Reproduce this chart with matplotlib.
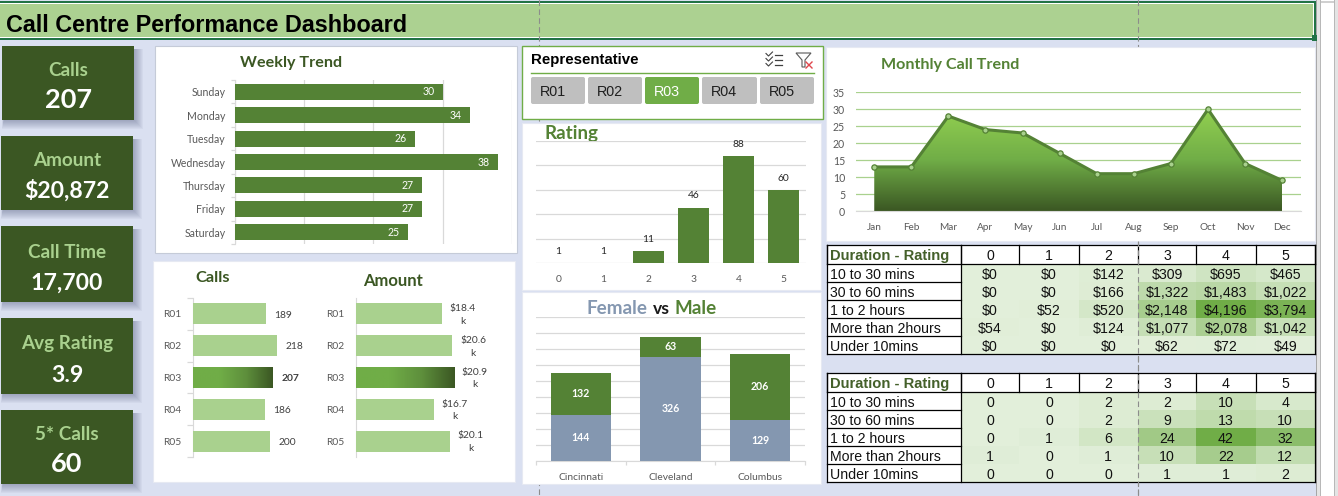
import numpy as np
import matplotlib
matplotlib.use("Agg")
import matplotlib.pyplot as plt
from matplotlib.colors import LinearSegmentedColormap
from matplotlib.patches import Rectangle, FancyBboxPatch, Polygon
from matplotlib.ticker import MultipleLocator, FixedLocator, NullFormatter

# ---------- data ----------
title = "Call Centre Performance Dashboard"
kpi_labels = ["Calls", "Amount", "Call Time", "Avg Rating", "5* Calls"]
kpi_values = ["207", "$20,872", "17,700", "3.9", "60"]

weekdays = ["Sunday", "Monday", "Tuesday", "Wednesday", "Thursday", "Friday", "Saturday"]
weekday_calls = [30, 34, 26, 38, 27, 27, 25]

reps = ["R01", "R02", "R03", "R04", "R05"]
rep_calls = [189, 218, 207, 186, 200]
rep_amount = [18.4, 20.6, 20.9, 16.7, 20.1]
selected_rep = "R03"

ratings = ["0", "1", "2", "3", "4", "5"]
rating_counts = [1, 1, 11, 46, 88, 60]

cities = ["Cincinnati", "Cleveland", "Columbus"]
female = [144, 326, 129]
male = [132, 63, 206]

months = ["Jan", "Feb", "Mar", "Apr", "May", "Jun", "Jul", "Aug", "Sep", "Oct", "Nov", "Dec"]
month_calls = [13, 13, 28, 24, 23, 17, 11, 11, 14, 30, 14, 9]

durations = ["10 to 30 mins", "30 to 60 mins", "1 to 2 hours", "More than 2hours", "Under 10mins"]
amount_table = [[0, 0, 142, 309, 695, 465],
                [0, 0, 166, 1322, 1483, 1022],
                [0, 52, 520, 2148, 4196, 3794],
                [54, 0, 124, 1077, 2078, 1042],
                [0, 0, 0, 62, 72, 49]]
count_table = [[0, 0, 2, 2, 10, 4],
               [0, 0, 2, 9, 13, 10],
               [0, 1, 6, 24, 42, 32],
               [1, 0, 1, 10, 22, 12],
               [0, 0, 0, 1, 1, 2]]

# ---------- style ----------
W, H = 1338, 496
BG = "#DAE0F1"
DARK = "#3B5723"
MID = "#548235"
LIGHT = "#A9D18E"
GRID = "#D9D9D9"
TICK = "#595959"
SANS = ["Lato", "DejaVu Sans"]
ARIAL = ["Liberation Sans", "DejaVu Sans"]

fig = plt.figure(figsize=(W / 100, H / 100), dpi=100, facecolor=BG)
plt.rcParams["font.family"] = SANS


def px_axes(x0, y0, x1, y1, z=1):
    ax = fig.add_axes([x0 / W, 1 - y1 / H, (x1 - x0) / W, (y1 - y0) / H], zorder=z)
    ax.patch.set_alpha(0)
    return ax


bg = px_axes(0, 0, W, H, 0)
bg.set_xlim(0, W)
bg.set_ylim(H, 0)
bg.axis("off")
top = px_axes(0, 0, W, H, 5)
top.set_xlim(0, W)
top.set_ylim(H, 0)
top.axis("off")


def rect(ax, x0, y0, x1, y1, fc, ec="none", lw=0, z=2, alpha=None):
    ax.add_patch(Rectangle((x0, y0), x1 - x0, y1 - y0, fc=fc, ec=ec, lw=lw, zorder=z, alpha=alpha))


# sheet edges on the right
rect(bg, 1316, 0, 1320, H, "#E4E4E4")
rect(bg, 1315.5, 0, 1316.5, H, "#A6A6A6")
rect(bg, 1319.5, 0, 1320.5, H, "#B8B8B8")
rect(bg, 1320.5, 0, 1334, H, "#FFFFFF")
rect(bg, 1320.5, 1, 1334, 3, "#D0D0D0", z=2.1)
rect(bg, 1334, 0, W, H, "#E4E4E4")
rect(bg, 1334, 0, 1335, H, "#B8B8B8", z=2.1)

# banner
rect(bg, 0, 1, 1316, 40, "#217346")
rect(bg, 0, 3, 1314, 38, "#FFFFFF", z=2.2)
rect(bg, 0, 4, 1313, 37, "#ACD191", z=2.4)
rect(bg, 1311.5, 35, 1316.5, 41, "#217346", z=2.6)
bg.text(5.5, 26, title, family=ARIAL, weight="bold", fontsize=16.8, color="#000000", va="center", ha="left", zorder=4)

# KPI cards
card_boxes = [(2, 46, 134, 120), (1, 136, 133, 210), (1, 226, 133, 302), (1, 318, 133, 394), (1, 410, 133, 484)]
label_y = [71, 161, 253, 344, 435]
value_y = [100, 191, 283, 375, 464]
value_size = [19.5, 16.6, 16.6, 16.6, 19.5]
for box, lab, val, ly, vy, vs in zip(card_boxes, kpi_labels, kpi_values, label_y, value_y, value_size):
    x0, y0, x1, y1 = box
    for g in range(9, 0, -1):
        rect(bg, x0 + 2 - g * 0.2, y0 + 3, x1 + g, y1 + g, "#4A5578", z=1.5, alpha=0.05)
    rect(bg, x0, y0, x1, y1, DARK, z=3)
    bg.text((x0 + x1) / 2, ly, lab, color="#A9D18E", weight="bold", fontsize=13.6, ha="center", va="center", zorder=4, family=SANS)
    bg.text((x0 + x1) / 2, vy, val, color="#FFFFFF", weight="bold", fontsize=vs, ha="center", va="center", zorder=4, family=SANS)

# white panels
panels = [(155, 46, 517, 253, "#C5CBD8"), (153, 261, 515, 482, "#E6E9F2"), (522, 123, 821, 290, "#E6E9F2"),
          (522, 292, 821, 484, "#E6E9F2"), (826, 47, 1315, 241, "#E6E9F2")]
for p in panels:
    rect(bg, p[0], p[1], p[2], p[3], "#FFFFFF", ec=p[4], lw=0.8, z=2)

# page-break dashes: behind panels, but over banner and tables
DASH = dict(color="#8C8C8C", lw=0.8, ls=(0, (5, 3)))
bg.plot([538.5, 538.5], [0, H], zorder=1.8, **DASH)
bg.plot([1138, 1138], [0, H], zorder=1.8, **DASH)
top.plot([538.5, 538.5], [0, 40], zorder=10, **DASH)
top.plot([1138, 1138], [0, 40], zorder=10, **DASH)
top.plot([1138, 1138], [241, H], zorder=10, **DASH)


def clean(ax):
    for s in ax.spines.values():
        s.set_visible(False)


def chart_text(x, y, s, color, size=11.6):
    bg.text(x, y + 2, s, color=color, weight="bold", fontsize=size, ha="left", va="center", zorder=4, family=SANS)


# ---------- weekly trend ----------
ax = px_axes(234.5, 80, 512, 244)
clean(ax)
pos = np.arange(len(weekdays))
ax.barh(pos, weekday_calls, height=0.68, color=MID, zorder=3)
ax.set_xlim(0, 40)
ax.set_ylim(len(weekdays) - 0.5, -0.5)
ax.xaxis.set_major_locator(MultipleLocator(10))
ax.xaxis.set_major_formatter(NullFormatter())
ax.grid(axis="x", color=GRID, lw=0.9, zorder=0)
ax.tick_params(axis="x", length=0)
ax.set_yticks(pos, weekdays, fontsize=7.6, color=TICK)
ax.tick_params(axis="y", length=0, pad=6.6)
ax.yaxis.set_minor_locator(FixedLocator(np.arange(-0.5, len(weekdays))))
ax.tick_params(axis="y", which="minor", length=3, color=GRID, width=0.9)
ax.spines["left"].set_visible(True)
ax.spines["left"].set_color(GRID)
for i, v in enumerate(weekday_calls):
    ax.annotate(str(v), (v, i), xytext=(-6, 0), textcoords="offset points", ha="right", va="center",
                color="white", fontsize=7.6, zorder=4)
chart_text(240, 60.5, "Weekly Trend", DARK)


# ---------- rep bars ----------
def gradient_bar(ax, y, v, h, colors):
    cm = LinearSegmentedColormap.from_list("g", colors)
    ax.imshow(np.linspace(0, 1, 128).reshape(1, -1), extent=(0, v, y + h / 2, y - h / 2), aspect="auto", cmap=cm, zorder=3)


def rep_chart(x0, x1, xmax, values, labels, ha, dx, minor_len):
    ax = px_axes(x0, 298, x1, 457)
    clean(ax)
    p = np.arange(len(reps))
    colors = ["none" if r == selected_rep else LIGHT for r in reps]
    ax.barh(p, values, height=0.66, color=colors, zorder=3)
    for i, r in enumerate(reps):
        if r == selected_rep:
            gradient_bar(ax, i, values[i], 0.66, ["#70AD47", "#70AD47", "#5E8F3C", "#3B5723"])
    ax.set_xlim(0, xmax)
    ax.set_ylim(len(reps) - 0.5, -0.5)
    ax.set_xticks([])
    ax.set_yticks(p, reps, fontsize=7.4, color=TICK)
    ax.tick_params(axis="y", length=0, pad=8.5)
    ax.yaxis.set_minor_locator(FixedLocator(np.arange(-0.5, len(reps))))
    ax.tick_params(axis="y", which="minor", length=minor_len, color=GRID, width=0.9)
    ax.spines["left"].set_visible(True)
    ax.spines["left"].set_color(GRID)
    for i, (v, t, r) in enumerate(zip(values, labels, reps)):
        ax.annotate(t, (v, i), xytext=(dx, -0.8), textcoords="offset points", ha=ha, va="center", fontsize=7.4,
                    color="#404040", linespacing=1.5, weight="bold" if (r == selected_rep and minor_len) else "normal", zorder=4)
    return ax


rep_chart(193, 330, 137 / 0.386, rep_calls, [str(v) for v in rep_calls], "left", 6, 4)
rep_chart(355.7, 500, 144.3 / 4.69, rep_amount, [f"${v}\nk" for v in rep_amount], "center", 15, 0)
chart_text(195, 276, "Calls", DARK, 11.8)
chart_text(363, 279, "Amount", DARK, 12)

# ---------- slicer ----------
rect(bg, 522, 46, 823, 119, "#FFFFFF", ec="#70AD47", lw=1, z=2.5)
bg.text(531, 60, "Representative", family=ARIAL, weight="bold", fontsize=10.8, color="#000000", va="center", zorder=4)
bg.plot([531, 814], [72.5, 72.5], color="#70AD47", lw=1, zorder=4)
button_x = [(531, 585), (588, 642), (645, 699), (702, 757), (760, 814)]
for (b0, b1), r in zip(button_x, reps):
    on = r == selected_rep
    bg.add_patch(FancyBboxPatch((b0 + 2, 79), b1 - b0 - 4, 23, boxstyle="round,pad=2,rounding_size=2", fc="#70AD47" if on else "#BFBFBF",
                                ec="none", zorder=4))
    bg.text(b0 + 9, 91.5, r, family=ARIAL, fontsize=10.4, color="#FFFFFF" if on else "#1F1F1F", va="center", ha="left", zorder=5)
# slicer icons
for yy in (55, 60, 65):
    bg.plot([775, 782], [yy, yy], color="#404040", lw=0.9, zorder=5)
    bg.plot([766, 768.5, 772.5], [yy - 1.5, yy + 1, yy - 3], color="#404040", lw=0.8, zorder=5)
bg.add_patch(Polygon([(796, 53), (811, 53), (805, 60), (805, 67), (802, 67), (802, 60)], closed=True, fc="none", ec="#595959", lw=0.8, zorder=5))
bg.plot([806, 812], [62, 68], color="#E0474C", lw=1, zorder=5)
bg.plot([812, 806], [62, 68], color="#E0474C", lw=1, zorder=5)

# ---------- rating ----------
ax = px_axes(536, 141, 806, 263)
clean(ax)
pos = np.arange(len(ratings))
# the chart's value axis starts at 1, so bars of value 1 have no height
ax.bar(pos, np.array(rating_counts) - 1, bottom=1, width=0.667, color=MID, zorder=3)
ax.set_xlim(-0.5, 5.5)
ax.set_ylim(1, 100)
ax.set_yticks(np.linspace(1, 100, 6))
ax.yaxis.set_major_formatter(NullFormatter())
ax.grid(axis="y", color=GRID, lw=0.9, zorder=0)
ax.tick_params(axis="y", length=0)
ax.set_xticks(pos, ratings, fontsize=7.4, color=TICK)
ax.tick_params(axis="x", length=0, pad=9)
for i, v in enumerate(rating_counts):
    ax.annotate(str(v), (i, v), xytext=(0, 8.4), textcoords="offset points", ha="center", va="center", fontsize=7.4, color="#262626",
                zorder=6, annotation_clip=False)
chart_text(545, 132, "Rating", MID, 13.5)

# ---------- gender ----------
ax = px_axes(536, 317, 805, 461)
clean(ax)
pos = np.arange(len(cities))
ax.bar(pos, female, width=0.67, color="#8497B0", zorder=3)
ax.bar(pos, male, width=0.67, bottom=female, color=MID, zorder=3)
ax.set_xlim(-0.5, 2.5)
ax.set_ylim(0, 450)
ax.yaxis.set_major_locator(MultipleLocator(50))
ax.yaxis.set_major_formatter(NullFormatter())
ax.grid(axis="y", color=GRID, lw=0.9, zorder=0)
ax.tick_params(axis="y", length=0)
ax.set_xticks(pos, cities, fontsize=7.4, color=TICK)
ax.tick_params(axis="x", length=0, pad=9)
ax.xaxis.set_minor_locator(MultipleLocator(1, 0.5))
ax.tick_params(axis="x", which="minor", length=3, color=GRID, width=0.9)
ax.spines["bottom"].set_visible(True)
ax.spines["bottom"].set_color(GRID)
for i in pos:
    ax.text(i, female[i] / 2, str(female[i]), ha="center", va="center", color="white", fontsize=7.6, weight="bold", zorder=4)
    ax.text(i, female[i] + male[i] / 2, str(male[i]), ha="center", va="center", color="white", fontsize=7.6, weight="bold", zorder=4)
for tx, s, c, fs in [(587, "Female", "#8497B0", 13.6), (653, "vs", "#1A1A1A", 12.6), (675, "Male", MID, 13.6)]:
    chart_text(tx, 307, s, c, fs)

# ---------- monthly ----------
ax = px_axes(855.7, 92.3, 1300.7, 211)
clean(ax)
pos = np.arange(len(months))
ax.yaxis.set_major_locator(MultipleLocator(5))
ax.grid(axis="y", color=LIGHT, lw=0.9, zorder=0)
cm = LinearSegmentedColormap.from_list("area", ["#92D050", "#70AD47", "#3B5723"])
im = ax.imshow(np.linspace(0, 1, 256).reshape(-1, 1), extent=(0, len(months) - 1, 0, max(month_calls)), aspect="auto", cmap=cm, zorder=2)
clip = Polygon(np.column_stack([np.r_[0, pos, pos[-1]], np.r_[0, month_calls, 0]]), closed=True, transform=ax.transData, fc="none", ec="none")
ax.add_patch(clip)
im.set_clip_path(clip)
ax.set_xlim(-0.5, len(months) - 0.5)
ax.set_ylim(0, 35)
ax.plot(pos, month_calls, color=MID, lw=2.2, marker="o", ms=3.8, mfc=LIGHT, mec=MID, mew=0.9, zorder=4)
ax.set_xticks(pos, months, fontsize=7.2, color=TICK)
ax.tick_params(axis="x", length=0, pad=9)
ax.tick_params(axis="y", length=0, pad=7.6, labelsize=7.6, labelcolor=TICK)
ax.spines["bottom"].set_visible(True)
ax.spines["bottom"].set_color(GRID)
chart_text(881, 63.5, "Monthly Call Trend", MID, 11.6)

# ---------- tables ----------
col_edges = [827.3, 960.7, 1019.3, 1078.7, 1137.7, 1196.3, 1255.7, 1314.7]
heat = LinearSegmentedColormap.from_list("heat", ["#E2EFDA", "#70AD47"])


def table(y0, values, fmt):
    rows = [y0, y0 + 19.6] + [y0 + 19.6 + 18 * k for k in range(1, 6)]
    arr = np.array(values, float)
    rect(bg, col_edges[0], rows[0], col_edges[-1], rows[1], "#FFFFFF", z=3)
    rect(bg, col_edges[0], rows[1], col_edges[1], rows[-1], "#FFFFFF", z=3)
    bg.text(col_edges[0] + 3, (rows[0] + rows[1]) / 2 + 1.8, "Duration - Rating", family=ARIAL, weight="bold", fontsize=10.6, color="#44602A", va="center", zorder=5)
    for c, lab in enumerate(ratings):
        bg.text((col_edges[c + 1] + col_edges[c + 2]) / 2, (rows[0] + rows[1]) / 2 + 1.5, lab, family=ARIAL, fontsize=10.2, color="#111111", ha="center", va="center", zorder=5)
    for r, dur in enumerate(durations):
        y_a, y_b = rows[r + 1], rows[r + 2]
        bg.text(col_edges[0] + 3, (y_a + y_b) / 2 + 1.5, dur, family=ARIAL, fontsize=10.2, color="#111111", va="center", zorder=5)
        for c in range(6):
            rect(bg, col_edges[c + 1], y_a, col_edges[c + 2], y_b, heat(arr[r, c] / arr.max()), z=3)
            bg.text((col_edges[c + 1] + col_edges[c + 2]) / 2, (y_a + y_b) / 2 + 1.5, fmt(values[r][c]), family=ARIAL, fontsize=10.2, color="#111111", ha="center", va="center", zorder=5)
    lw = 0.9
    for e in col_edges:
        bg.plot([e, e], [rows[0], rows[1]], color="black", lw=lw, zorder=6)
    for e in (col_edges[0], col_edges[1], col_edges[-1]):
        bg.plot([e, e], [rows[0], rows[-1]], color="black", lw=lw, zorder=6)
    for k, yy in enumerate(rows):
        x_end = col_edges[-1] if k in (0, 1, 6) else col_edges[1]
        bg.plot([col_edges[0], x_end], [yy, yy], color="black", lw=lw, zorder=6)


table(244.7, amount_table, lambda v: f"${v:,}")
table(372.7, count_table, lambda v: f"{v}")

fig.savefig("out.png", dpi=100, facecolor=BG)
